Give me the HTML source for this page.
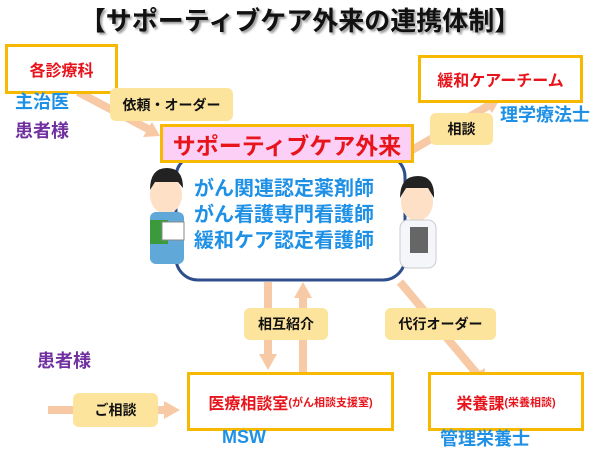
<!DOCTYPE html>
<html><head><meta charset="utf-8"><style>
body{margin:0;width:600px;height:446px;background:#fff;position:relative;overflow:hidden;font-family:"Liberation Sans","Noto Sans CJK JP",sans-serif;font-weight:bold}
.a{position:absolute;white-space:nowrap}
.box{position:absolute;border:3px solid #f7b900;background:#fff;box-sizing:border-box;display:flex;align-items:center;justify-content:center;color:#e8141c}
.lab{position:absolute;background:#fde49c;border-radius:6px;display:flex;align-items:center;justify-content:center;font-size:14px;color:#111}
</style></head><body>
<svg width="600" height="446" style="position:absolute;left:0;top:0">
<g stroke="#f8c9a5" stroke-width="8" fill="none">
<line x1="78" y1="92" x2="150" y2="130"/>
<line x1="412" y1="150" x2="488" y2="106"/>
<line x1="268" y1="282" x2="268" y2="356"/>
<line x1="303" y1="372" x2="303" y2="296"/>
<line x1="400" y1="282" x2="478" y2="375"/>
<line x1="48" y1="410" x2="165" y2="410"/>
</g>
<g fill="#f8c9a5">
<polygon points="160,136 143,137 152,122"/>
<polygon points="500,99 492,113 482,99"/>
<polygon points="268,370 259,354 277,354"/>
<polygon points="303,282 294,298 312,298"/>
<polygon points="484,384 471,376 485,368"/>
<polygon points="180,410 164,401 164,419"/>
</g>
<rect x="176" y="155" width="229" height="125" rx="22" fill="#fff" stroke="#2f4e8c" stroke-width="3"/>
<g>
<ellipse cx="166" cy="195" rx="16" ry="19" fill="#fde0c5"/>
<path d="M150 190 Q150 168 167 168 Q183 168 183 188 L178 182 L155 182 Z" fill="#222"/>
<rect x="150" y="212" width="34" height="52" rx="6" fill="#5fa8d8"/>
<rect x="150" y="220" width="18" height="24" fill="#3c9a3c"/>
<rect x="162" y="222" width="22" height="18" fill="#fff" stroke="#888"/>
</g>
<g>
<ellipse cx="417" cy="202" rx="16" ry="19" fill="#fde0c5"/>
<path d="M400 198 Q400 176 418 176 Q435 176 434 198 L428 188 L406 188 Z" fill="#222"/>
<rect x="400" y="220" width="36" height="48" rx="8" fill="#f4f6fa" stroke="#ccc"/>
<rect x="410" y="227" width="18" height="26" fill="#666"/>
</g>
</svg>
<div class="a" style="left:0;width:600px;top:1px;text-align:center;font-size:26px;color:#111;text-shadow:2px 2px 2px #999">【サポーティブケア外来の連携体制】</div>
<div class="box" style="left:5px;top:44px;width:113px;height:50px;font-size:16px">各診療科</div>
<div class="a" style="left:15px;top:88px;font-size:18px;color:#1e90e6">主治医</div>
<div class="a" style="left:15px;top:117px;font-size:18px;color:#7030a0">患者様</div>
<div class="lab" style="left:110px;top:88px;width:123px;height:33px">依頼・オーダー</div>
<div class="box" style="left:160px;top:124px;width:254px;height:39px;background:#fcd0f6;font-size:23px">サポーティブケア外来</div>
<div class="box" style="left:418px;top:55px;width:165px;height:48px;font-size:16px">緩和ケアーチーム</div>
<div class="lab" style="left:430px;top:113px;width:63px;height:32px">相談</div>
<div class="a" style="left:500px;top:101px;font-size:18px;color:#1e90e6">理学療法士</div>
<div class="a" style="left:194px;top:176px;font-size:20px;line-height:26px;color:#1e90e6">がん関連認定薬剤師<br>がん看護専門看護師<br>緩和ケア認定看護師</div>
<div class="lab" style="left:244px;top:308px;width:84px;height:32px">相互紹介</div>
<div class="lab" style="left:385px;top:308px;width:111px;height:32px">代行オーダー</div>
<div class="a" style="left:37px;top:347px;font-size:18px;color:#7030a0">患者様</div>
<div class="lab" style="left:73px;top:393px;width:85px;height:34px">ご相談</div>
<div class="box" style="left:187px;top:372px;width:207px;height:59px;font-size:16px">医療相談室<span style="font-size:11px">(がん相談支援室)</span></div>
<div class="box" style="left:428px;top:372px;width:156px;height:59px;font-size:16px">栄養課<span style="font-size:11px">(栄養相談)</span></div>
<div class="a" style="left:222px;top:427px;font-size:18px;color:#1e90e6">MSW</div>
<div class="a" style="left:440px;top:425px;font-size:18px;color:#1e90e6">管理栄養士</div>
</body></html>
